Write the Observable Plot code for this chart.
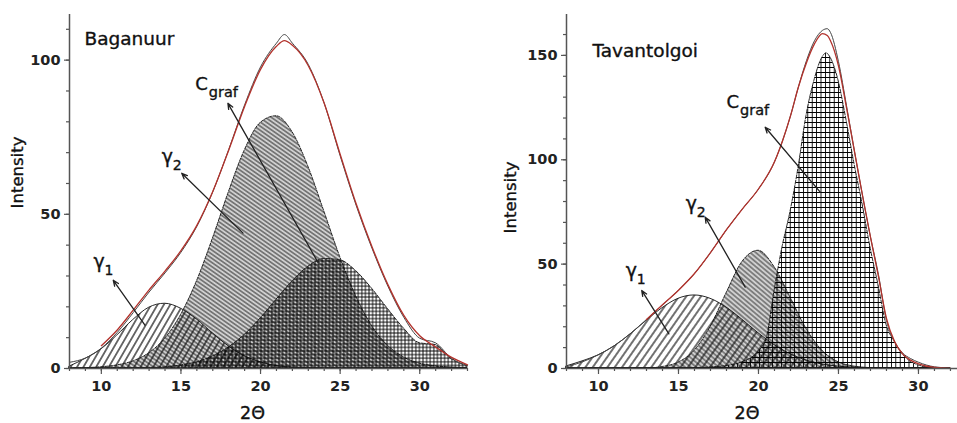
<!DOCTYPE html>
<html>
<head>
<meta charset="utf-8">
<script src="https://cdn.jsdelivr.net/npm/d3@7"></script>
<script src="https://cdn.jsdelivr.net/npm/@observablehq/plot@0.6"></script>
<style>
  body { margin: 0; background: #fff; }
  #wrap { position: relative; width: 957px; height: 423px; overflow: hidden; font-family: "DejaVu Sans", sans-serif; }
  #left { position: absolute; left: 0; top: 0; }
  #right { position: absolute; left: 480px; top: 0; }
</style>
</head>
<body>
<svg width="0" height="0" style="position:absolute">
  <defs>
    <pattern id="bagG1" patternUnits="userSpaceOnUse" width="5.5" height="10" patternTransform="rotate(30)">
      <line x1="2.75" y1="0" x2="2.75" y2="10" stroke="#111" stroke-width="1.2"/>
    </pattern>
    <pattern id="bagG2" patternUnits="userSpaceOnUse" width="3.4" height="10" patternTransform="rotate(-55)">
      <rect width="3.4" height="10" fill="#d0d0d0"/>
      <line x1="1.7" y1="0" x2="1.7" y2="10" stroke="#222" stroke-width="0.9"/>
    </pattern>
    <pattern id="bagC" patternUnits="userSpaceOnUse" width="3.6" height="3.6">
      <path d="M0 1.8H3.6M1.8 0V3.6" stroke="#000" stroke-width="0.9"/>
    </pattern>
    <pattern id="tavG1" patternUnits="userSpaceOnUse" width="6" height="10" patternTransform="rotate(35)">
      <line x1="3" y1="0" x2="3" y2="10" stroke="#111" stroke-width="1.2"/>
    </pattern>
    <pattern id="tavG2" patternUnits="userSpaceOnUse" width="3.6" height="10" patternTransform="rotate(-50)">
      <rect width="3.6" height="10" fill="#d0d0d0"/>
      <line x1="1.8" y1="0" x2="1.8" y2="10" stroke="#222" stroke-width="0.9"/>
    </pattern>
    <pattern id="tavC" patternUnits="userSpaceOnUse" width="4.4" height="5">
      <path d="M0 2.5H4.4M2.2 0V5" stroke="#000" stroke-width="0.9"/>
    </pattern>
  </defs>
</svg>
<div id="wrap"><div id="left"></div><div id="right"></div></div>
<script>
// ---------- Baganuur (left panel) ----------
const bagX       = [8,9,10,11,12,13,14,15,16,17,18,19,20,21,22,23,24,25,26,27,28,29,30,31,32,33];
const bagGamma1  = [0.6,3.1,6.2,10.7,15.7,19.7,21.0,19.4,15.9,11.4,7.2,4.0,2.0,0.8,0.3,0.1,0,0,0,0,0,0,0,0,0,0];
const bagGamma2  = [0,0.1,0.4,1.0,2.3,4.9,9.6,17.3,28.2,42.0,57.0,70.6,79.6,81.8,76.7,65.5,51.0,36.2,23.5,13.8,7.4,3.6,1.6,0.7,0.3,0.1];
const bagCgraf   = [0,0,0,0,0.1,0.2,0.4,1.0,2.0,3.9,6.8,10.9,16.2,22.3,28.2,33.0,35.5,35.1,31.6,25.9,19.3,13.0,8.2,7.6,3.0,0.8];
const bagEnvX    = [8,9,10,11,12,13,14,15,16,17,18,19,20,21,21.5,22,23,24,25,26,27,28,29,30,31,32,33];
const bagEnv     = [2.0,3.4,6.6,11.7,18.1,24.8,31.0,37.7,46.1,57.3,71.0,85.5,97.8,105.5,108.3,105.5,98.6,86.0,69.0,53.0,39.0,26.7,16.6,9.8,8.3,3.3,1.0];
const bagFitX    = [10,11,12,13,14,15,16,17,18,19,20,21,21.5,22,23,24,25,26,27,28,29,30,31,32,33];
const bagFit     = [7.4,12.5,18.9,25.5,31.6,38.2,46.4,57.4,70.8,85.0,97.0,104.5,106.3,104.8,98.2,86.0,69.5,53.5,39.5,27.2,17.2,10.6,7.0,3.6,1.2];

// ---------- Tavantolgoi (right panel) ----------
const tavX       = [8,9,10,11,12,13,14,15,16,17,18,19,20,21,22,23,24,25,26,27,28,29,30,31,32];
const tavGamma1  = [1.0,3.4,6.3,10.6,16.3,22.8,28.9,33.4,35.0,33.4,29.2,23.3,16.9,11.2,6.8,3.8,1.9,0.9,0.4,0.1,0,0,0,0,0];
const tavGamma2  = [0,0,0,0,0,0,0.7,2.8,8.4,19.8,36.0,51.1,56.4,48.6,34.0,19.0,8.5,3.0,0.9,0.2,0,0,0,0,0];
const tavCgrafX  = [8,16,17,18,19,20,20.5,21,21.5,22,22.5,23,23.5,24,24.25,24.5,25,25.5,26,26.5,27,27.5,28,28.5,29,30,31,32];
const tavCgraf   = [0,0.2,0.5,1.2,3,8,14,37,58,75,96,121,138,149,151,149,138,119,98,79,58,40,21,13,7,1.5,0.2,0];
const tavEnvX    = [8,9,10,11,12,13,14,15,16,17,18,19,20,21,21.5,22,22.5,23,23.5,24,24.3,24.5,25,25.5,26,26.5,27,27.5,28,28.5,29,29.5,30,31,32];
const tavEnv     = [0.8,3.2,6.6,11.0,16.8,23.5,30.5,37.5,45.5,55.5,66.5,76.5,86.0,99,109,121,135,147.5,157,162,162.8,161,147,126,104,83,63,45,23,13,7.5,4.8,3.0,0.8,0.2];
const tavFitX    = [13,14,15,16,17,18,19,20,21,21.5,22,22.5,23,23.5,24,24.3,24.5,25,25.5,26,26.5,27,27.5,28,28.5,29,29.5,30,31,32];
const tavFit     = [23.5,30.5,37.5,45.5,55.5,66.5,76.5,86.0,99,109,121,135,146.5,155.5,160.4,159.5,157,145,125,104,83,63,44,24,13,7,4,2.2,0.5,0.1];

// ---------- ticks ----------
const xMajorTicks  = [10,15,20,25,30];
const bagXMinor    = [8,9,10,11,12,13,14,15,16,17,18,19,20,21,22,23,24,25,26,27,28,29,30,31,32,33];
const tavXMinor    = [8,9,10,11,12,13,14,15,16,17,18,19,20,21,22,23,24,25,26,27,28,29,30,31,32];
const bagYMajor    = [0,50,100];
const bagYMinor    = [0,10,20,30,40,50,60,70,80,90,100,110];
const tavYMajor    = [0,50,100,150];
const tavYMinor    = [0,10,20,30,40,50,60,70,80,90,100,110,120,130,140,150,160];

// ---------- texts ----------
const panelNames = ["Baganuur", "Tavantolgoi"];
const xTitle = "2Θ";
const yTitle = "Intensity";

// annotation labels (data coordinates of the label baseline) and arrows (tail -> head)
const bagCLabel     = [{x: 15.9, y: 90.3, main: "C", sub: "graf"}];
const bagGammaLabel = [{x: 13.8, y: 66.8, main: "γ", sub: "2"}, {x: 9.5, y: 32.5, main: "γ", sub: "1"}];
const bagArrows     = [
  {x1: 23.6, y1: 34.5, x2: 17.95, y2: 86.0},
  {x1: 18.9, y1: 43.9, x2: 15.05, y2: 63.3},
  {x1: 12.75, y1: 14.0, x2: 10.75, y2: 28.6}
];
const tavCLabel     = [{x: 18.0, y: 124.6, main: "C", sub: "graf"}];
const tavGammaLabel = [{x: 15.45, y: 75.7, main: "γ", sub: "2"}, {x: 11.7, y: 43.6, main: "γ", sub: "1"}];
const tavArrows     = [
  {x1: 23.86, y1: 84.5, x2: 20.42, y2: 115.6},
  {x1: 19.17, y1: 39.0, x2: 16.67, y2: 72.5},
  {x1: 14.4, y1: 16.6, x2: 12.7, y2: 37.4}
];

const FONT = '"DejaVu Sans", sans-serif';
const rows = (xs, ys) => xs.map((x, i) => ({x, y: ys[i]}));
const thick = {fill: "#111", stroke: "#111", strokeWidth: 0.35};

function panel(c) {
  return Plot.plot({
    width: c.width, height: 423,
    marginLeft: c.marginLeft, marginRight: c.marginRight, marginTop: 14, marginBottom: 55,
    x: {domain: c.xDomain, label: null},
    y: {domain: c.yDomain, label: null},
    style: {fontFamily: FONT, color: "#222", background: "transparent", overflow: "visible"},
    marks: [
      Plot.areaY(rows(c.x, c.g2), {x: "x", y: "y", fill: `url(#${c.pat}G2)`, stroke: "#111", strokeWidth: 0.9, strokeDasharray: "3,1.5", curve: "monotone-x"}),
      Plot.areaY(rows(c.x, c.g1), {x: "x", y: "y", fill: `url(#${c.pat}G1)`, stroke: "#111", strokeWidth: 0.9, curve: "monotone-x"}),
      Plot.areaY(rows(c.cx, c.cg), {x: "x", y: "y", fill: `url(#${c.pat}C)`, stroke: "#111", strokeWidth: 0.9, strokeDasharray: "4,1.5", curve: "monotone-x"}),
      Plot.line(rows(c.envX, c.env), {x: "x", y: "y", stroke: "#444", strokeWidth: 1, curve: "monotone-x"}),
      Plot.line(rows(c.fitX, c.fit), {x: "x", y: "y", stroke: "#b2322c", strokeWidth: 1.3, curve: "monotone-x"}),
      Plot.axisX(c.xMinor, {tickSize: 3, tickFormat: () => "", stroke: "#555", strokeWidth: 1.2}),
      Plot.axisX(xMajorTicks, {tickSize: 6, tickPadding: 6, fontSize: 14.5, fontWeight: "bold", fill: "#222", stroke: "#555", strokeWidth: 1.2, label: null}),
      Plot.axisY(c.yMinor, {tickSize: 3, tickFormat: () => "", stroke: "#555", strokeWidth: 1.2}),
      Plot.axisY(c.yMajor, {tickSize: 5, tickPadding: 4, fontSize: 14.5, fontWeight: "bold", fill: "#222", stroke: "#555", strokeWidth: 1.2, label: null}),
      Plot.ruleY([0], {stroke: "#555", strokeWidth: 1.5}),
      Plot.ruleX([c.xDomain[0]], {stroke: "#555", strokeWidth: 1.5}),
      Plot.arrow(c.arrows, {x1: "x1", y1: "y1", x2: "x2", y2: "y2", stroke: "#222", strokeWidth: 1.3, headLength: 7, headAngle: 45}),
      Plot.text(c.cLabel, {x: "x", y: "y", text: "main", textAnchor: "start", lineAnchor: "bottom", fontSize: 18, ...thick}),
      Plot.text(c.cLabel, {x: "x", y: "y", text: "sub", textAnchor: "start", lineAnchor: "bottom", fontSize: 14.5, ...thick, dx: 13.5, dy: 7}),
      Plot.text(c.gLabel, {x: "x", y: "y", text: "main", textAnchor: "start", lineAnchor: "bottom", fontSize: 19, ...thick}),
      Plot.text(c.gLabel, {x: "x", y: "y", text: "sub", textAnchor: "start", lineAnchor: "bottom", fontSize: 14, ...thick, dx: 11, dy: 7}),
      Plot.text([c.name], {frameAnchor: "top-left", textAnchor: "start", lineAnchor: "top", fontSize: 18.5, ...thick, dx: c.nameDx, dy: c.nameDy}),
      Plot.text([xTitle], {frameAnchor: "bottom", lineAnchor: "bottom", fontSize: 17.5, ...thick, dx: c.xtDx, dy: 50}),
      Plot.text([yTitle], {frameAnchor: "left", rotate: -90, textAnchor: "middle", lineAnchor: "middle", fontSize: 16.5, ...thick, dx: c.ytDx, dy: c.ytDy})
    ]
  });
}

document.getElementById("left").append(panel({
  width: 480, marginLeft: 69, marginRight: 13, xDomain: [8, 33], yDomain: [0, 114.8],
  x: bagX, g1: bagGamma1, g2: bagGamma2, cx: bagX, cg: bagCgraf,
  envX: bagEnvX, env: bagEnv, fitX: bagFitX, fit: bagFit, pat: "bag",
  xMinor: bagXMinor, yMinor: bagYMinor, yMajor: bagYMajor,
  arrows: bagArrows, cLabel: bagCLabel, gLabel: bagGammaLabel,
  name: panelNames[0], nameDx: 15, nameDy: 17, xtDx: -16, ytDx: -52, ytDy: -19
}));

document.getElementById("right").append(panel({
  width: 477, marginLeft: 86, marginRight: 0, xDomain: [8, 32.44], yDomain: [0, 169.6],
  x: tavX, g1: tavGamma1, g2: tavGamma2, cx: tavCgrafX, cg: tavCgraf,
  envX: tavEnvX, env: tavEnv, fitX: tavFitX, fit: tavFit, pat: "tav",
  xMinor: tavXMinor, yMinor: tavYMinor, yMajor: tavYMajor,
  arrows: tavArrows, cLabel: tavCLabel, gLabel: tavGammaLabel,
  name: panelNames[1], nameDx: 26, nameDy: 29, xtDx: -15, ytDx: -56, ytDy: 6
}));
</script>
</body>
</html>
